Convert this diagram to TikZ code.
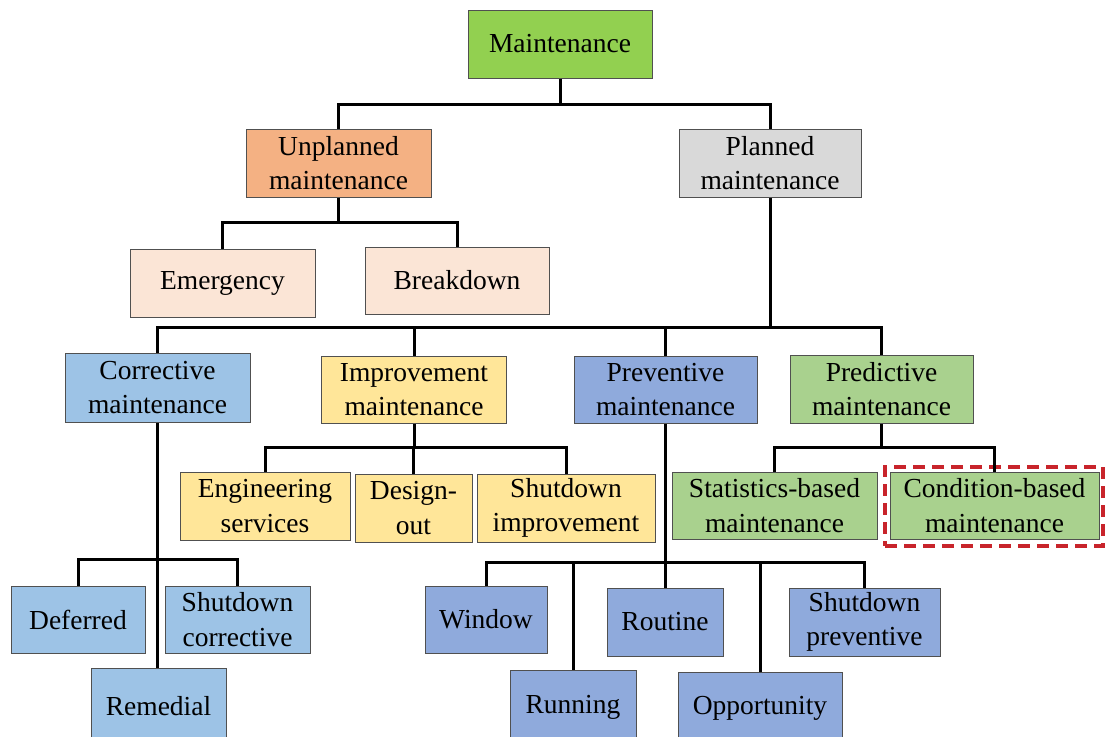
\documentclass[tikz,border=0pt]{standalone}
\usepackage{fontspec}
\setmainfont{Liberation Serif}
\definecolor{bordergray}{HTML}{505050}
\definecolor{cMain}{HTML}{92D050}
\definecolor{cUnpl}{HTML}{F4B183}
\definecolor{cPlan}{HTML}{D9D9D9}
\definecolor{cUnplChild}{HTML}{FBE5D6}
\definecolor{cCorr}{HTML}{9DC3E6}
\definecolor{cImpr}{HTML}{FFE699}
\definecolor{cPrev}{HTML}{8FAADC}
\definecolor{cPred}{HTML}{A9D18E}
\definecolor{cRed}{HTML}{C8242B}
\begin{document}
\begin{tikzpicture}[x=1pt,y=-1pt,
  box/.style={draw=bordergray, line width=1pt, inner sep=0pt, align=center,
    font=\fontsize{27.5}{34.5}\selectfont, text=black},
  conn/.style={draw=black, line width=3pt, line join=miter},
  hilite/.style={draw=cRed, line width=3.5pt, dash pattern=on 12pt off 7pt, inner sep=0pt}
]
\useasboundingbox (0,0) rectangle (1105,736);
\clip (0,0) rectangle (1105,736);
\fill[white] (0,0) rectangle (1105,736);

% bus coordinates
\coordinate (b1) at (0,104);
\coordinate (b2) at (0,222);
\coordinate (b3) at (0,327);
\coordinate (b4) at (0,447);
\coordinate (b5) at (0,447);
\coordinate (b6) at (0,559);
\coordinate (b7) at (0,562);

% level 1-2
\node[box, fill=cMain, minimum width=184pt, minimum height=68pt] (m) at (560,44) {Maintenance};
\node[box, fill=cUnpl, minimum width=185pt, minimum height=68pt] (u) at (338.5,163) {Unplanned\\maintenance};
\node[box, fill=cPlan, minimum width=182pt, minimum height=68pt] (p) at (770,163) {Planned\\maintenance};
\node[box, fill=cUnplChild, minimum width=185pt, minimum height=68pt] (em) at (222.5,283) {Emergency};
\node[box, fill=cUnplChild, minimum width=184pt, minimum height=67pt] (bd) at (457,280.5) {Breakdown};

% level 3
\node[box, fill=cCorr, minimum width=185pt, minimum height=69pt] (co) at (157.5,387.5) {Corrective\\maintenance};
\node[box, fill=cImpr, minimum width=185pt, minimum height=67pt] (im) at (414,389.5) {Improvement\\maintenance};
\node[box, fill=cPrev, minimum width=183pt, minimum height=67pt] (pv) at (665.5,389.5) {Preventive\\maintenance};
\node[box, fill=cPred, minimum width=183pt, minimum height=68pt] (pd) at (881.5,389) {Predictive\\maintenance};

% improvement children
\node[box, fill=cImpr, minimum width=170pt, minimum height=68pt] (en) at (265,506) {Engineering\\services};
\node[box, fill=cImpr, minimum width=117pt, minimum height=68pt] (de) at (413.5,508) {Design-\\out};
\node[box, fill=cImpr, minimum width=178pt, minimum height=68pt] (sh) at (566,508) {Shutdown\\improvement};

% predictive children
\node[box, fill=cPred, minimum width=205pt, minimum height=67pt] (st) at (774.5,505.5) {Statistics-based\\maintenance};
\node[box, fill=cPred, minimum width=209pt, minimum height=67pt] (cb) at (994.5,505.5) {Condition-based\\maintenance};
\node[hilite, minimum width=218pt, minimum height=79pt] (hl) at (994,506.5) {};

% corrective children
\node[box, fill=cCorr, minimum width=134pt, minimum height=67pt] (df) at (78,619.5) {Deferred};
\node[box, fill=cCorr, minimum width=145pt, minimum height=67pt] (sc) at (237.5,619.5) {Shutdown\\corrective};
\node[box, fill=cCorr, minimum width=135pt, minimum height=77pt] (rm) at (158.5,706.5) {Remedial};

% preventive children
\node[box, fill=cPrev, minimum width=122pt, minimum height=67pt] (wi) at (486,619.5) {Window};
\node[box, fill=cPrev, minimum width=126pt, minimum height=75pt] (ru) at (573,707.5) {Running};
\node[box, fill=cPrev, minimum width=116pt, minimum height=68pt] (ro) at (665,622) {Routine};
\node[box, fill=cPrev, minimum width=164pt, minimum height=73pt] (op) at (760,708.5) {Opportunity};
\node[box, fill=cPrev, minimum width=151pt, minimum height=68pt] (sp) at (864.5,622) {Shutdown\\preventive};

% connectors
\draw[conn] (m.south) -- (m.south |- b1);
\draw[conn] (u.north) -- (u.north |- b1) -- (p.north |- b1) -- (p.north);

\draw[conn] (u.south) -- (u.south |- b2);
\draw[conn] (em.north) -- (em.north |- b2) -- (bd.north |- b2) -- (bd.north);

\draw[conn] (p.south) -- (p.south |- b3);
\draw[conn] (co.north) -- (co.north |- b3) -- (pd.north |- b3) -- (pd.north);
\draw[conn] (im.north) -- (im.north |- b3);
\draw[conn] (pv.north) -- (pv.north |- b3);

\draw[conn] (im.south) -- (im.south |- b4);
\draw[conn] (en.north) -- (en.north |- b4) -- (sh.north |- b4) -- (sh.north);
\draw[conn] (de.north) -- (de.north |- b4);

\draw[conn] (pd.south) -- (pd.south |- b5);
\draw[conn] (st.north) -- (st.north |- b5) -- (cb.north |- b5) -- (cb.north);

\draw[conn] (co.south) -- (co.south |- rm.north);
\draw[conn] (df.north) -- (df.north |- b6) -- (sc.north |- b6) -- (sc.north);

\draw[conn] (pv.south) -- (pv.south |- b7);
\draw[conn] (wi.north) -- (wi.north |- b7) -- (sp.north |- b7) -- (sp.north);
\draw[conn] (ru.north) -- (ru.north |- b7);
\draw[conn] (ro.north) -- (ro.north |- b7);
\draw[conn] (op.north) -- (op.north |- b7);
\end{tikzpicture}
\end{document}
